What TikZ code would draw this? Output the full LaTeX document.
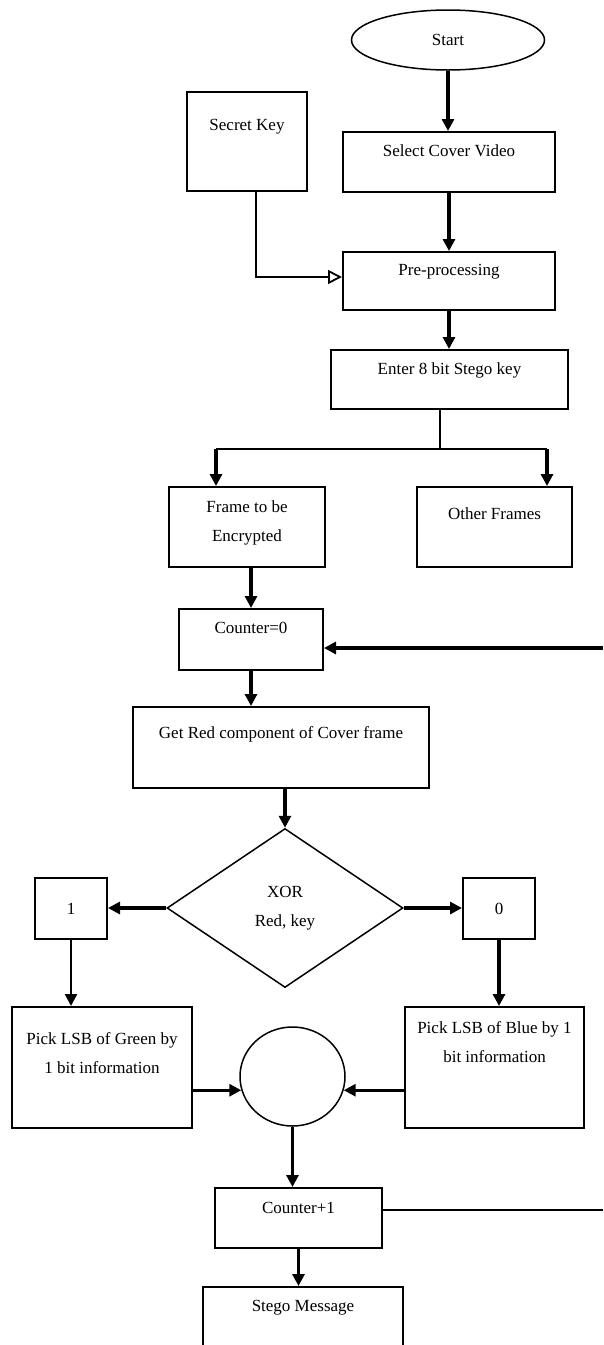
\documentclass[tikz,border=0pt]{standalone}
\usepackage{fontspec}
\setmainfont{Liberation Serif}
\usetikzlibrary{arrows.meta,shapes.geometric}

\tikzset{
    blk/.style={draw, line width=2pt, inner sep=0pt},
    lbl/.style={anchor=center, align=center, font=\fontsize{17}{29}\selectfont},
    flow/.style={line width=3.4pt, -{Triangle[length=12pt,width=12pt]}},
    thinline/.style={line width=1.8pt},
}

\begin{document}
\begin{tikzpicture}[x=1pt, y=-1pt, font=\fontsize{17}{29}\selectfont]
        \useasboundingbox (0,0) rectangle (603,1345);
        \clip (0,0) rectangle (603,1345);

        \node[blk, ellipse, line width=1.5pt, minimum width=193pt, minimum height=60pt] (start) at (448,40) {Start};
        \node[blk, minimum width=120pt, minimum height=99pt, label={[lbl,yshift=-36pt]north:Secret Key}] (secret) at (247,141.5) {};
        \node[blk, minimum width=212pt, minimum height=60pt, label={[lbl,yshift=-20pt]north:Select Cover Video}] (sel) at (449,162) {};
        \node[blk, minimum width=212pt, minimum height=58pt, label={[lbl,yshift=-21pt]north:Pre-processing}] (pre) at (449,281) {};
        \node[blk, minimum width=237pt, minimum height=59pt, label={[lbl,yshift=-21pt]north:Enter 8 bit Stego key}] (enter) at (449.5,379.5) {};
        \node[blk, minimum width=156pt, minimum height=80pt, label={[lbl,yshift=-37pt]north:Frame to be\\Encrypted}] (frame) at (247,527) {};
        \node[blk, minimum width=155pt, minimum height=80pt, label={[lbl,yshift=-28pt]north:Other Frames}] (other) at (494.5,527) {};
        \node[blk, minimum width=144pt, minimum height=61pt, label={[lbl,yshift=-20pt]north:Counter=0}] (cnt0) at (251,639.5) {};
        \node[blk, minimum width=296pt, minimum height=81pt, label={[lbl,yshift=-28pt]north:Get Red component of Cover frame}] (red) at (281,747.5) {};
        \node[blk, diamond, line width=1.5pt, align=center, minimum width=236pt, minimum height=159pt] (dia) at (285,908) {XOR\\Red, key};
        \node[blk, minimum width=72pt, minimum height=61pt] (one) at (71,908.5) {1};
        \node[blk, minimum width=72pt, minimum height=61pt] (zero) at (499,908.5) {0};
        \node[blk, minimum width=180pt, minimum height=121pt, label={[lbl,yshift=-47pt]north:Pick LSB of Green by\\1 bit information}] (grn) at (102,1067.5) {};
        \node[blk, minimum width=179pt, minimum height=121pt, label={[lbl,yshift=-36pt]north:Pick LSB of Blue by 1\\bit information}] (blu) at (494.5,1067.5) {};
        \node[blk, ellipse, line width=1.5pt, minimum width=105pt, minimum height=99pt] (circ) at (292.5,1076.5) {};
        \node[blk, minimum width=167pt, minimum height=60pt, label={[lbl,yshift=-21pt]north:Counter+1}] (cplus) at (298.5,1218) {};
        \node[blk, minimum width=200pt, minimum height=80pt, label={[lbl,yshift=-22pt]north:Stego Message}] (stego) at (303,1327) {};

        \coordinate (split) at (440,449);
        \coordinate (splitL) at (216,449);
        \coordinate (splitR) at (547,449);
        \coordinate (loopin) at (603,648);
        \coordinate (loopout) at (603,1210);
        \coordinate (keyturn) at (256,277);

        \draw[flow] (start.south) -- (start.south |- sel.north);
        \draw[flow] (sel.south) -- (sel.south |- pre.north);
        \draw[flow] (pre.south) -- (pre.south |- enter.north);
        \draw[thinline, -{Triangle[open,length=14pt,width=14pt]}] (keyturn |- secret.south) -- (keyturn) -- (keyturn -| pre.west);

        % split into frames
        \draw[thinline] (split |- enter.south) -- (split);
        \draw[line width=2.4pt] (splitL) -- (splitR);
        \draw[flow] (splitL) -- (splitL |- frame.north);
        \draw[flow] (splitR) -- (splitR |- other.north);

        \draw[flow] (frame.south -| cnt0.north) -- (cnt0.north);
        \draw[flow] (loopin) -- (loopin -| cnt0.east);
        \draw[flow] (cnt0.south) -- (cnt0.south |- red.north);
        \draw[flow] (dia.north |- red.south) -- (dia.north);

        \draw[flow] (dia.west) -- (dia.west -| one.east);
        \draw[flow] (dia.east) -- (dia.east -| zero.west);
        \draw[line width=2.4pt, -{Triangle[length=12pt,width=12pt]}] (one.south) -- (one.south |- grn.north);
        \draw[flow] (zero.south) -- (zero.south |- blu.north);

        \draw[flow] (grn.east |- circ.195) -- (circ.195);
        \draw[flow] (blu.west |- circ.345) -- (circ.345);
        \draw[flow] (circ.south) -- (circ.south |- cplus.north);
        \draw[flow] (cplus.south) -- (cplus.south |- stego.north);
        \draw[thinline] (loopout -| cplus.east) -- (loopout);
    \end{tikzpicture}
\end{document}
